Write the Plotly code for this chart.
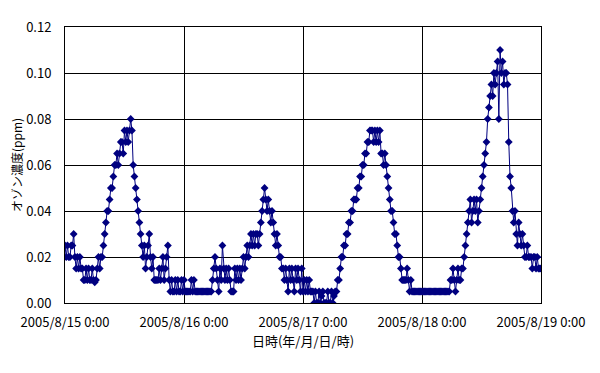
import pandas as pd
import plotly.graph_objects as go

# Ozone concentration, ppb (0.001 ppm), every 15 minutes
day_0815 = [25, 20, 25, 20, 20, 25, 25, 30, 20, 15, 20, 15, 20, 15, 15, 10,
            10, 15, 10, 15, 10, 10, 15, 10, 9, 10, 15, 20, 15, 20, 20, 25,
            30, 35, 40, 40, 45, 50, 50, 55, 60, 60, 65, 60, 65, 70, 70, 65,
            75, 70, 75, 70, 75, 80, 75, 60, 55, 50, 45, 40, 35, 30, 25, 20,
            25, 15, 20, 25, 30, 20, 15, 20, 10, 10, 10, 10, 15, 10, 15, 20,
            10, 15, 20, 25, 10, 5, 10, 5, 5, 10, 5, 10, 5, 5, 10, 5]
day_0816 = [10, 5, 5, 5, 5, 5, 10, 5, 10, 5, 5, 5, 5, 5, 5, 5,
            5, 5, 5, 5, 5, 5, 5, 10, 15, 20, 15, 10, 5, 15, 10, 25,
            15, 10, 15, 10, 15, 10, 5, 5, 5, 15, 10, 15, 10, 15, 10, 15,
            20, 15, 20, 25, 20, 25, 30, 25, 30, 25, 30, 30, 25, 30, 35, 40,
            45, 50, 45, 40, 45, 40, 35, 40, 35, 30, 25, 30, 25, 20, 20, 15,
            15, 10, 15, 10, 5, 15, 10, 15, 10, 5, 15, 10, 15, 10, 5, 15]
day_0817 = [5, 10, 5, 10, 5, 10, 5, 5, 5, 0, 5, 0, 0, 5, 0, 3,
            5, 0, 0, 0, 5, 0, 0, 5, 0, 3, 5, 5, 10, 10, 15, 20,
            20, 25, 25, 30, 30, 35, 35, 40, 40, 45, 45, 45, 50, 50, 55, 55,
            60, 60, 65, 65, 70, 70, 75, 75, 75, 70, 75, 70, 75, 70, 75, 65,
            65, 60, 65, 60, 55, 50, 45, 40, 40, 35, 30, 30, 25, 20, 20, 15,
            10, 10, 10, 10, 15, 10, 5, 10, 5, 5, 5, 5, 5, 5, 5, 5]
day_0818 = [5, 5, 5, 5, 5, 5, 5, 5, 5, 5, 5, 5, 5, 5, 5, 5,
            5, 5, 5, 5, 5, 5, 5, 10, 10, 15, 10, 5, 10, 15, 10, 10,
            15, 15, 20, 25, 30, 35, 40, 45, 35, 40, 45, 40, 45, 35, 40, 45,
            50, 55, 60, 65, 70, 80, 85, 90, 95, 90, 100, 95, 100, 105, 80, 110,
            100, 105, 95, 100, 100, 95, 70, 55, 50, 40, 35, 40, 30, 25, 35, 30,
            25, 30, 25, 20, 20, 25, 20, 20, 20, 15, 20, 20, 15, 20, 15, 15]
day_0819 = [15]

values_ppb = day_0815 + day_0816 + day_0817 + day_0818 + day_0819
times = pd.date_range("2005-08-15 00:00", periods=len(values_ppb), freq="15min")
values_ppm = [v / 1000 for v in values_ppb]

x_tick_dates = ["2005-08-15", "2005-08-16", "2005-08-17", "2005-08-18", "2005-08-19"]
x_tick_text = ["2005/8/15 0:00", "2005/8/16 0:00", "2005/8/17 0:00",
               "2005/8/18 0:00", "2005/8/19 0:00"]
y_tick_vals = [0, 0.02, 0.04, 0.06, 0.08, 0.10, 0.12]

navy = "#000080"
font = "Noto Sans CJK JP, sans-serif"

fig = go.Figure(go.Scatter(
    x=times, y=values_ppm, mode="lines+markers",
    line=dict(color=navy, width=1),
    marker=dict(symbol="diamond", size=6, color=navy),
    showlegend=False,
))

fig.update_layout(
    width=600, height=373,
    margin=dict(l=57, r=67, t=19, b=78, autoexpand=False),
    paper_bgcolor="white", plot_bgcolor="white",
    font=dict(family=font, size=13, color="#000000"),
)
fig.update_xaxes(
    range=["2005-08-15", "2005-08-19"],
    tickvals=x_tick_dates, ticktext=x_tick_text,
    showgrid=True, gridcolor="#000000", gridwidth=0.7,
    showline=True, linecolor="#000000", linewidth=1, mirror=True,
    ticks="", ticklabelstandoff=7,
    title=dict(text="日時(年/月/日/時)", standoff=1, font=dict(size=13)),
    zeroline=False,
)
fig.update_yaxes(
    range=[0, 0.12], tickvals=y_tick_vals, tickformat=".2f",
    showgrid=True, gridcolor="#000000", gridwidth=0.7,
    showline=True, linecolor="#000000", linewidth=1, mirror=True,
    ticks="", ticklabelstandoff=10,
    title=dict(text="オゾン濃度(ppm)", standoff=9, font=dict(size=12)),
    zeroline=False,
)

fig.write_html("out.html")
